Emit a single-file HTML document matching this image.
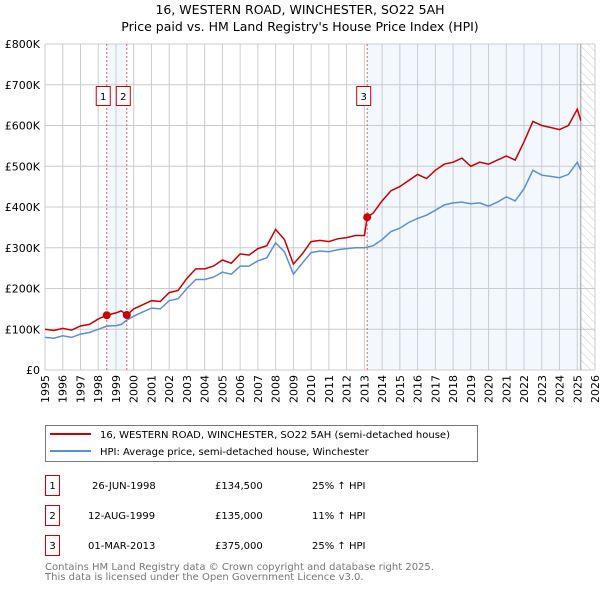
<!DOCTYPE html>
<html><head><meta charset="utf-8"><style>
body{margin:0;background:#fff;font-family:"DejaVu Sans","Liberation Sans",sans-serif;}
svg text{font-family:"DejaVu Sans","Liberation Sans",sans-serif;}
</style></head><body>
<svg id="c" width="600" height="590" xmlns="http://www.w3.org/2000/svg">
<defs><pattern id="hatch" width="6" height="6" patternUnits="userSpaceOnUse" patternTransform="rotate(-45)"><line x1="0" y1="0" x2="0" y2="6" stroke="#ccc" stroke-width="1"/></pattern></defs>
<text x="300" y="14" text-anchor="middle" font-size="12.5">16, WESTERN ROAD, WINCHESTER, SO22 5AH</text>
<text x="300" y="31" text-anchor="middle" font-size="12.5">Price paid vs. HM Land Registry's House Price Index (HPI)</text>
<g id="plot"></g>
<g>
<rect x="45.5" y="425.5" width="432" height="36" fill="#fff" stroke="#777"/>
<line x1="50" y1="434" x2="91" y2="434" stroke="#cc0000" stroke-width="2"/>
<text x="100" y="438" font-size="10">16, WESTERN ROAD, WINCHESTER, SO22 5AH (semi-detached house)</text>
<line x1="50" y1="451" x2="91" y2="451" stroke="#5b8fd4" stroke-width="2"/>
<text x="100" y="455" font-size="10">HPI: Average price, semi-detached house, Winchester</text>
</g>
<g font-size="10">
<rect x="45.5" y="475.5" width="14" height="20" fill="#fff" stroke="#cc0000"/><text x="52.5" y="489" text-anchor="middle">1</text>
<text x="92" y="489">26-JUN-1998</text><text x="215" y="489">£134,500</text><text x="312" y="489">25% ↑ HPI</text>
<rect x="45.5" y="505.5" width="14" height="20" fill="#fff" stroke="#cc0000"/><text x="52.5" y="519" text-anchor="middle">2</text>
<text x="88" y="519">12-AUG-1999</text><text x="215" y="519">£135,000</text><text x="312" y="519">11% ↑ HPI</text>
<rect x="45.5" y="535.5" width="14" height="20" fill="#fff" stroke="#cc0000"/><text x="52.5" y="549" text-anchor="middle">3</text>
<text x="88" y="549">01-MAR-2013</text><text x="215" y="549">£375,000</text><text x="312" y="549">25% ↑ HPI</text>
</g>
<text x="45" y="570" font-size="10" fill="#777">Contains HM Land Registry data © Crown copyright and database right 2025.</text>
<text x="45" y="580" font-size="10" fill="#777">This data is licensed under the Open Government Licence v3.0.</text>
</svg>
<script>
const yTicks=[0,100,200,300,400,500,600,700,800];
const yLabels=["£0","£100K","£200K","£300K","£400K","£500K","£600K","£700K","£800K"];
const xYears=[1995,1996,1997,1998,1999,2000,2001,2002,2003,2004,2005,2006,2007,2008,2009,2010,2011,2012,2013,2014,2015,2016,2017,2018,2019,2020,2021,2022,2023,2024,2025,2026];
const redT=[1995,1995.5,1996,1996.5,1997,1997.5,1998,1998.48,1999,1999.3,1999.61,2000,2000.5,2001,2001.5,2002,2002.5,2003,2003.5,2004,2004.5,2005,2005.5,2006,2006.5,2007,2007.5,2008,2008.5,2009,2009.5,2010,2010.5,2011,2011.5,2012,2012.5,2013,2013.16,2013.5,2014,2014.5,2015,2015.5,2016,2016.5,2017,2017.5,2018,2018.5,2019,2019.5,2020,2020.5,2021,2021.5,2022,2022.5,2023,2023.5,2024,2024.5,2025,2025.2];
const redV=[100,97,102,98,108,112,125,134.5,140,145,135,150,160,170,168,190,195,225,248,248,255,270,262,285,282,298,305,345,320,260,285,315,318,315,322,325,330,330,375,385,415,440,450,465,480,470,490,505,510,520,500,510,505,515,525,515,560,610,600,595,590,600,640,612];
const blueT=[1995,1995.5,1996,1996.5,1997,1997.5,1998,1998.5,1999,1999.3,1999.6,2000,2000.5,2001,2001.5,2002,2002.5,2003,2003.5,2004,2004.5,2005,2005.5,2006,2006.5,2007,2007.5,2008,2008.5,2009,2009.5,2010,2010.5,2011,2011.5,2012,2012.5,2013,2013.5,2014,2014.5,2015,2015.5,2016,2016.5,2017,2017.5,2018,2018.5,2019,2019.5,2020,2020.5,2021,2021.5,2022,2022.5,2023,2023.5,2024,2024.5,2025,2025.2];
const blueV=[80,78,84,80,88,92,100,108,109,112,122,132,142,152,150,170,175,200,222,222,228,240,235,255,255,268,275,312,290,235,262,288,292,290,295,298,300,300,305,320,340,348,362,372,380,392,405,410,412,408,410,402,412,425,415,445,490,478,475,472,480,510,490];
const sales=[[1998.48,134.5,"1"],[1999.61,135,"2"],[2013.16,375,"3"]];
const X0=45,X1=595,Y0=370,Y1=44;
const xs=t=>X0+(t-1995)/(2026-1995)*(X1-X0);
const ys=v=>Y0-v/800*(Y0-Y1);
const NS="http://www.w3.org/2000/svg";
const g=document.getElementById('plot');
function mk(tag,a,parent){const e=document.createElementNS(NS,tag);for(const k in a)e.setAttribute(k,a[k]);(parent||g).appendChild(e);return e;}
let e;
e=mk('rect',{x:xs(1998.48),y:Y1,width:xs(1999.61)-xs(1998.48),height:Y0-Y1,fill:'#eef3fd',opacity:0.7});


e=mk('rect',{x:xs(2013.16),y:Y1,width:xs(2025.2)-xs(2013.16),height:Y0-Y1,fill:'#eef3fd',opacity:0.7});


e=mk('rect',{x:xs(2025.2),y:Y1,width:X1-xs(2025.2),height:Y0-Y1,fill:'url(#hatch)'});


xYears.forEach(y=>{e=mk('line',{x1:xs(y),x2:xs(y),y1:Y1,y2:Y0,stroke:'#ccc','stroke-width':1});


e=mk('text',{x:0,y:0,'font-size':11,'text-anchor':'end',transform:`translate(${xs(y)+4},${Y0+5}) rotate(-90)`});e.textContent=y;

});
yTicks.forEach((v,i)=>{e=mk('line',{x1:X0,x2:X1,y1:ys(v),y2:ys(v),stroke:'#ccc','stroke-width':1});


e=mk('text',{x:X0-5,y:ys(v)+4,'font-size':11,'text-anchor':'end'});e.textContent=yLabels[i];

});
e=mk('line',{x1:xs(2025.2),x2:xs(2025.2),y1:Y1,y2:Y0,stroke:'#999','stroke-width':1});


sales.forEach(s=>{e=mk('line',{x1:xs(s[0]),x2:xs(s[0]),y1:Y1,y2:Y0,stroke:'#e06060','stroke-width':1,'stroke-dasharray':'2,2'});

});
function path(T,V,col,name){e=mk('path',{d:T.map((t,i)=>(i?'L':'M')+xs(t).toFixed(1)+','+ys(V[i]).toFixed(1)).join(''),fill:'none',stroke:col,'stroke-width':1.5});

}
path(blueT,blueV,'#5b8fd4','hpi-line');
path(redT,redV,'#cc0000','price-line');
sales.forEach(s=>{e=mk('circle',{cx:xs(s[0]),cy:ys(s[1]),r:4,fill:'#cc0000'});


const bx=xs(s[0])-11;
e=mk('rect',{x:bx+0.5,y:86.5,width:14,height:19,fill:'#fff',stroke:'#cc0000'});


e=mk('text',{x:bx+7.5,y:100,'font-size':10,'text-anchor':'middle'});e.textContent=s[2];

});
</script>
</body></html>
